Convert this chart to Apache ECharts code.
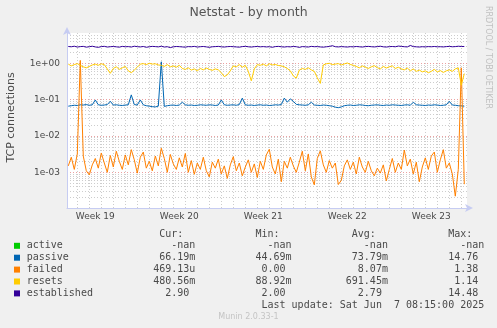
<!DOCTYPE html>
<html><head><meta charset="utf-8">
<script src="https://cdn.jsdelivr.net/npm/echarts@6/dist/echarts.min.js"></script>
<style>html,body{margin:0;padding:0;background:#f0f0f0}#c{width:497px;height:328px}</style>
</head><body><div id="c"></div>
<script>
const chartTitle = 'Netstat - by month';
const yAxisName = 'TCP connections';
const watermark = 'RRDTOOL / TOBI OETIKER';
const footerText = 'Munin 2.0.33-1';
const lastUpdate = 'Last update: Sat Jun  7 08:15:00 2025';

// x in days since Mon 2025-05-05 00:00 (start of ISO week 19)
const xMin = 1.142, xMax = 34.475;
const weekCenters = [3.5, 10.5, 17.5, 24.5, 31.5];
const weekLabels = ['Week 19', 'Week 20', 'Week 21', 'Week 22', 'Week 23'];
const weekStarts = [7, 14, 21, 28];
const dayLines = [2,3,4,5,6,7,8,9,10,11,12,13,14,15,16,17,18,19,20,21,22,23,24,25,26,27,28,29,30,31,32,33,34];

const yMin = 1.04e-4, yMax = 6.82;
const yMajorTicks = [1e-3, 1e-2, 1e-1, 1];
const yTickLabels = ['1e-03', '1e-02', '1e-01', '1e+00'];
const yMinorTicks = [2e-4,3e-4,4e-4,5e-4,6e-4,7e-4,8e-4,9e-4,
  2e-3,3e-3,4e-3,5e-3,6e-3,7e-3,8e-3,9e-3,
  2e-2,3e-2,4e-2,5e-2,6e-2,7e-2,8e-2,9e-2,
  2e-1,3e-1,4e-1,5e-1,6e-1,7e-1,8e-1,9e-1,
  2,3,4,5,6];

// samples every 6 hours
const sampleStart = 1.25, sampleStep = 0.25;

const passive = [
  0.066,0.068,0.070,0.069,0.072,0.071,0.073,0.070,0.072,0.098,
  0.072,0.070,0.071,0.073,0.090,0.071,0.072,0.070,0.069,0.071,
  0.072,0.135,0.073,0.071,0.098,0.072,0.068,0.066,0.064,0.063,
  0.066,1.1,0.065,0.068,0.070,0.071,0.069,0.071,0.085,0.072,
  0.070,0.071,0.069,0.070,0.072,0.071,0.070,0.072,0.071,0.069,
  0.071,0.098,0.072,0.070,0.071,0.072,0.070,0.073,0.110,0.072,
  0.070,0.071,0.069,0.071,0.072,0.070,0.071,0.069,0.070,0.072,
  0.071,0.073,0.110,0.085,0.105,0.090,0.074,0.072,0.071,0.070,
  0.072,0.085,0.071,0.070,0.069,0.071,0.070,0.068,0.066,0.062,
  0.060,0.063,0.068,0.070,0.071,0.069,0.070,0.072,0.071,0.069,
  0.068,0.070,0.071,0.072,0.070,0.069,0.071,0.070,0.072,0.071,
  0.070,0.069,0.071,0.072,0.070,0.085,0.072,0.071,0.070,0.069,
  0.071,0.070,0.072,0.071,0.069,0.070,0.072,0.090,0.071,0.070,
  0.068,0.067,0.066];

const failed = [
  1.5e-3,2.6e-3,1.2e-3,3.2e-3,1.2,2.8e-3,1.1e-3,8.5e-4,1.6e-3,2.4e-3,
  1.3e-3,3.4e-3,1.8e-3,1.0e-3,2.9e-3,1.4e-3,3.8e-3,2.0e-3,1.2e-3,3.0e-3,
  1.6e-3,4.2e-3,2.2e-3,9.5e-4,2.6e-3,3.6e-3,1.3e-3,2.0e-3,1.1e-3,2.8e-3,
  1.5e-3,4.6e-3,2.4e-3,1.0e-3,3.1e-3,1.7e-3,1.2e-3,2.5e-3,1.4e-3,3.3e-3,
  1.0e-3,2.1e-3,8.8e-4,1.8e-3,1.2e-3,2.6e-3,1.1e-3,7.5e-4,1.9e-3,1.3e-3,
  2.3e-3,9.0e-4,1.5e-3,6.8e-4,1.6e-3,2.7e-3,1.1e-3,1.8e-3,8.0e-4,1.4e-3,
  2.2e-3,1.0e-3,1.7e-3,7.2e-4,2.0e-3,1.2e-3,3.0e-3,4.3e-3,1.4e-3,9.0e-4,
  2.3e-3,5.5e-4,2.0e-3,1.3e-3,2.6e-3,1.5e-3,1.0e-3,1.9e-3,3.8e-3,1.1e-3,
  3.2e-3,7.5e-4,4.5e-4,2.4e-3,3.9e-3,1.6e-3,1.0e-3,2.1e-3,1.3e-3,1.8e-3,
  4.6e-4,6.0e-4,1.5e-3,2.2e-3,1.2e-3,1.9e-3,9.0e-4,2.6e-3,1.4e-3,1.0e-3,
  2.0e-3,1.1e-3,8.0e-4,1.3e-3,9.5e-4,1.6e-3,5.8e-4,1.2e-3,2.4e-3,1.0e-3,
  1.8e-3,1.2e-3,4.1e-3,1.5e-3,2.3e-3,9.0e-4,1.9e-3,5.5e-4,1.4e-3,2.5e-3,
  1.2e-3,2.8e-3,3.6e-3,1.0e-3,2.2e-3,4.2e-3,1.3e-3,1.8e-3,9.0e-4,2.2e-4,
  1.2e-3,0.75,4.7e-4];

const resets = [
  0.95,0.85,0.92,0.98,0.88,0.80,0.75,0.82,0.90,0.95,
  0.88,0.97,0.92,0.70,0.53,0.72,0.80,0.68,0.75,0.82,
  0.62,0.55,0.65,0.78,0.95,0.98,0.92,1.00,0.95,0.97,
  0.90,0.88,0.82,0.92,0.80,0.85,0.78,0.88,0.72,0.68,
  0.75,0.65,0.70,0.62,0.72,0.66,0.74,0.68,0.64,0.70,
  0.66,0.55,0.43,0.48,0.62,0.85,0.80,0.92,0.78,0.88,
  0.60,0.33,0.70,0.92,0.88,0.95,0.85,0.97,0.90,0.93,
  0.87,0.85,0.80,0.72,0.62,0.45,0.39,0.65,0.72,0.68,
  0.75,0.66,0.60,0.40,0.28,0.90,0.97,1.00,0.92,0.95,
  0.98,0.90,0.96,1.02,0.93,0.88,0.82,0.75,0.85,0.78,
  0.72,0.80,0.86,0.76,0.70,0.82,0.74,0.80,0.85,0.72,
  0.78,0.70,0.66,0.74,0.62,0.70,0.60,0.65,0.58,0.62,
  0.55,0.60,0.68,0.58,0.63,0.56,0.62,0.66,0.60,0.70,
  0.75,0.25,0.52];

const established = [
  2.90,2.85,2.95,2.80,2.88,2.92,2.78,2.86,2.95,2.82,
  2.75,2.88,2.93,2.80,2.86,2.90,2.84,2.78,2.92,2.85,
  2.88,2.80,2.95,2.87,2.82,2.90,2.76,2.85,2.92,2.88,
  2.83,2.95,2.80,2.86,2.70,2.84,2.90,2.87,2.82,2.78,
  2.88,2.85,2.92,2.80,2.86,2.90,2.83,2.75,2.85,2.88,
  2.92,2.84,2.80,2.87,2.90,2.86,2.82,2.78,2.88,2.93,
  2.85,2.80,2.87,2.90,2.84,2.88,2.82,2.86,2.76,2.88,
  2.92,2.85,2.80,2.87,2.83,2.90,2.86,2.74,2.88,2.84,
  2.80,2.92,2.86,2.88,2.82,2.78,2.85,2.90,3.05,2.86,
  2.82,2.88,2.84,2.80,2.87,2.83,2.90,2.85,2.80,2.88,
  2.92,2.86,2.82,2.88,2.95,2.84,2.80,2.87,2.90,2.85,
  2.98,2.92,2.86,2.82,3.10,2.88,2.84,2.80,2.86,2.82,
  2.88,2.85,2.90,2.84,2.86,2.82,2.88,2.92,2.85,2.88,
  2.95,2.90,2.90];

const seriesNames = ['active', 'passive', 'failed', 'resets', 'established'];
const seriesColors = ['#00cc00', '#0066b3', '#ff8000', '#ffcc00', '#330099'];
const seriesData = [[], passive, failed, resets, established];
const curVals = ['-nan', '66.19m', '469.13u', '480.56m', '2.90'];
const minVals = ['-nan', '44.69m', '0.00', '88.92m', '2.00'];
const avgVals = ['-nan', '73.79m', '8.07m', '691.45m', '2.79'];
const maxVals = ['-nan', '14.76', '1.38', '1.14', '14.48'];
const colHeaders = ['Cur:', 'Min:', 'Avg:', 'Max:'];

// ---- build ----
const colEnds = [27, 43, 59, 75];
function makeRow(parts) {
  const a = new Array(82).fill(' ');
  parts.forEach(([s, c]) => { for (let i = 0; i < s.length; i++) a[c + i] = s[i]; });
  return a.join('').replace(/\s+$/, '');
}
function valPart(s, end) {
  const num = s.replace(/[a-zA-Z]$/, '');
  return [s, end - num.length];
}
const monoFont = '10px "DejaVu Sans Mono", monospace';
const textColor = '#4a4a4a';
const legendX = 26.7;
const headerY = 234, rowY0 = 245.6, rowStep = 11.9;

const graphics = [];
graphics.push({ type: 'text', x: legendX, y: headerY, style: {
  text: makeRow(colHeaders.map((h, k) => [h, colEnds[k] - 5])), font: monoFont, fill: textColor, textVerticalAlign: 'middle' } });
seriesNames.forEach((n, i) => {
  const y = rowY0 + i * rowStep;
  graphics.push({ type: 'rect', shape: { x: 14, y: y - 2.8, width: 6, height: 6 }, style: { fill: seriesColors[i] } });
  const row = makeRow([[n, 0], valPart(curVals[i], colEnds[0]), valPart(minVals[i], colEnds[1]),
    valPart(avgVals[i], colEnds[2]), valPart(maxVals[i], colEnds[3])]);
  graphics.push({ type: 'text', x: legendX, y: y, style: { text: row, font: monoFont, fill: textColor, textVerticalAlign: 'middle' } });
});
graphics.push({ type: 'text', x: legendX, y: rowY0 + 5 * rowStep, style: {
  text: makeRow([[lastUpdate, 39]]), font: monoFont, fill: textColor, textVerticalAlign: 'middle' } });
graphics.push({ type: 'text', x: 248.5, y: 317.3, style: { text: footerText, font: '8px "DejaVu Sans", sans-serif', fill: '#c4c4c4', textAlign: 'center', textVerticalAlign: 'middle' } });
graphics.push({ type: 'text', x: 488.3, y: 6, rotation: -Math.PI / 2, style: { text: watermark, font: '8px "DejaVu Sans", sans-serif', fill: '#c0c0c0', textAlign: 'left', textVerticalAlign: 'middle' } });
graphics.push({ type: 'text', x: 11, y: 117.5, rotation: Math.PI / 2, style: { text: yAxisName, font: '11px "DejaVu Sans", sans-serif', fill: textColor, textAlign: 'center', textVerticalAlign: 'middle' } });

const axisColor = '#c6ccf2';
const majorGrid = { show: true, lineStyle: { color: 'rgba(225,110,110,0.65)', type: [1, 2], width: 1 } };
const minorGrid = { show: true, lineStyle: { color: '#cdcdcd', type: [1, 2], width: 1 } };

const series = seriesNames.map((n, i) => ({
  name: n, type: 'line', xAxisIndex: 0, yAxisIndex: 0,
  data: seriesData[i].map((v, k) => [sampleStart + k * sampleStep, v]),
  showSymbol: false, symbol: 'none', smooth: false,
  lineStyle: { color: seriesColors[i], width: 1 }, itemStyle: { color: seriesColors[i] },
  emphasis: { disabled: true }, silent: true
}));

const option = {
  animation: false,
  backgroundColor: '#f0f0f0',
  title: { text: chartTitle, left: 'center', top: 1, textStyle: { fontFamily: 'DejaVu Sans', fontSize: 12.5, fontWeight: 'normal', color: '#555' } },
  grid: { left: 67, top: 33, width: 400, height: 175, show: true, backgroundColor: '#ffffff', borderWidth: 0 },
  xAxis: [
    { type: 'value', min: xMin, max: xMax, position: 'bottom',
      axisLine: { show: true, onZero: false, lineStyle: { color: axisColor, width: 1 }, symbol: ['none', 'arrow'], symbolSize: [6, 8], symbolOffset: [0, 6] },
      axisTick: { show: false, customValues: weekStarts },
      axisLabel: { show: true, customValues: weekCenters, margin: 4, color: textColor, fontSize: 9, fontFamily: 'DejaVu Sans',
        formatter: v => { const k = weekCenters.findIndex(c => Math.abs(c - v) < 0.01); return k >= 0 ? weekLabels[k] : ''; } },
      splitLine: majorGrid },
    { type: 'value', min: xMin, max: xMax, position: 'top',
      axisLine: { show: false }, axisTick: { show: false, customValues: dayLines }, axisLabel: { show: false },
      splitLine: minorGrid }
  ],
  yAxis: [
    { type: 'log', logBase: 10, min: yMin, max: yMax, position: 'left',
      axisLine: { show: true, onZero: false, lineStyle: { color: axisColor, width: 1 }, symbol: ['none', 'arrow'], symbolSize: [6, 8], symbolOffset: [0, 6] },
      axisTick: { show: false, customValues: yMajorTicks },
      axisLabel: { show: true, customValues: yMajorTicks, margin: 7, color: textColor, fontSize: 9, fontFamily: 'DejaVu Sans',
        formatter: v => { const k = yMajorTicks.findIndex(t => Math.abs(Math.log10(v / t)) < 0.01); return k >= 0 ? yTickLabels[k] : ''; } },
      splitLine: majorGrid },
    { type: 'log', logBase: 10, min: yMin, max: yMax, position: 'right',
      axisLine: { show: false }, axisTick: { show: false, customValues: yMinorTicks }, axisLabel: { show: false },
      splitLine: minorGrid }
  ],
  series: series,
  graphic: graphics
};

const chart = echarts.init(document.getElementById('c'), null, { renderer: 'canvas' });
chart.setOption(option);
</script>
</body></html>
